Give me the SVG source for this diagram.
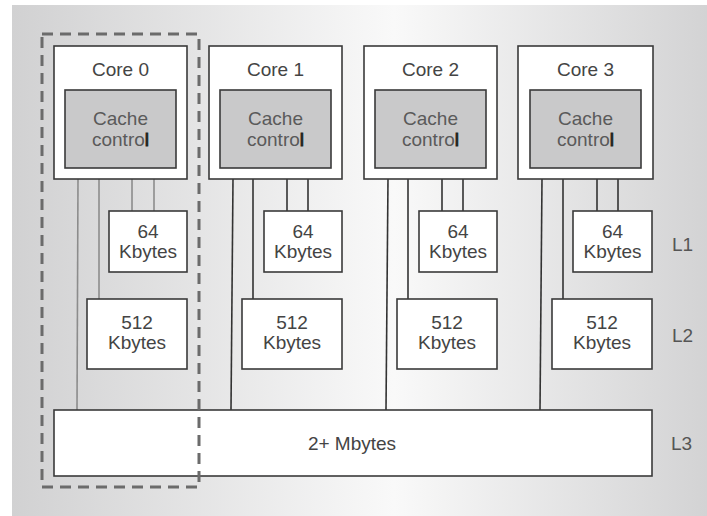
<svg xmlns="http://www.w3.org/2000/svg" width="707" height="516" viewBox="0 0 707 516">
  <defs>
    <linearGradient id="bg" x1="0" y1="0" x2="1" y2="0">
      <stop offset="0" stop-color="#d1d1d2"/>
      <stop offset="0.55" stop-color="#f9f9f9"/>
      <stop offset="1" stop-color="#d3d3d4"/>
    </linearGradient>
    <style>
      .box { fill: #ffffff; stroke: #3a3a3a; stroke-width: 1.6; }
      .ctl { fill: #c9c9ca; stroke: #3a3a3a; stroke-width: 1.6; }
      .bus { stroke: #333333; stroke-width: 1.6; fill: none; }
      .bus0 { stroke: #8c8c8c; stroke-width: 1.6; fill: none; }
      text { font-family: "Liberation Sans", Arial, sans-serif; font-size: 19px; fill: #444444; text-anchor: middle; }
      .cc { fill: #5a5a5a; }
      .bar { fill: #222222; stroke: #222222; stroke-width: 0.9; }
      .lvl { text-anchor: start; fill: #555555; }
      .dash { fill: none; stroke: #6b6b6b; stroke-width: 3; stroke-dasharray: 11 7; }
    </style>
  </defs>

  <rect x="0" y="0" width="707" height="516" fill="#ffffff"/>
  <rect x="12" y="5" width="695" height="511" fill="url(#bg)"/>

  <!-- connectors -->
  <g id="connectors">
    <g class="bus0">
      <line x1="78" y1="179" x2="77" y2="410"/>
      <line x1="99" y1="179" x2="99" y2="299"/>
      <line x1="132" y1="179" x2="132" y2="211"/>
      <line x1="154" y1="179" x2="154" y2="211"/>
    </g>
    <g class="bus">
      <line x1="233" y1="179" x2="231" y2="410"/>
      <line x1="253" y1="179" x2="253" y2="299"/>
      <line x1="287" y1="179" x2="287" y2="211"/>
      <line x1="308" y1="179" x2="308" y2="211"/>

      <line x1="388" y1="179" x2="386" y2="410"/>
      <line x1="408" y1="179" x2="408" y2="299"/>
      <line x1="442" y1="179" x2="442" y2="211"/>
      <line x1="463" y1="179" x2="463" y2="211"/>

      <line x1="542" y1="179" x2="540" y2="410"/>
      <line x1="563" y1="179" x2="563" y2="299"/>
      <line x1="597" y1="179" x2="597" y2="211"/>
      <line x1="618" y1="179" x2="618" y2="211"/>
    </g>
  </g>

  <!-- cores -->
  <g id="core0">
    <rect class="box" x="54" y="46" width="133" height="133"/>
    <text x="120.5" y="76">Core 0</text>
    <rect class="ctl" x="65" y="90" width="111" height="78"/>
    <text class="cc" x="120.5" y="125">Cache</text>
    <text class="cc" x="120.5" y="146">contro<tspan class="bar">l</tspan></text>
  </g>
  <g id="core1">
    <rect class="box" x="209" y="46" width="133" height="133"/>
    <text x="275.5" y="76">Core 1</text>
    <rect class="ctl" x="220" y="90" width="111" height="78"/>
    <text class="cc" x="275.5" y="125">Cache</text>
    <text class="cc" x="275.5" y="146">contro<tspan class="bar">l</tspan></text>
  </g>
  <g id="core2">
    <rect class="box" x="364" y="46" width="133" height="133"/>
    <text x="430.5" y="76">Core 2</text>
    <rect class="ctl" x="375" y="90" width="111" height="78"/>
    <text class="cc" x="430.5" y="125">Cache</text>
    <text class="cc" x="430.5" y="146">contro<tspan class="bar">l</tspan></text>
  </g>
  <g id="core3">
    <rect class="box" x="518" y="46" width="135" height="133"/>
    <text x="585.5" y="76">Core 3</text>
    <rect class="ctl" x="530" y="90" width="111" height="78"/>
    <text class="cc" x="585.5" y="125">Cache</text>
    <text class="cc" x="585.5" y="146">contro<tspan class="bar">l</tspan></text>
  </g>

  <!-- L1 caches -->
  <g id="l1-0">
    <rect class="box" x="109" y="211" width="78" height="61"/>
    <text x="148" y="238">64</text>
    <text x="148" y="258">Kbytes</text>
  </g>
  <g id="l1-1">
    <rect class="box" x="264" y="211" width="78" height="61"/>
    <text x="303" y="238">64</text>
    <text x="303" y="258">Kbytes</text>
  </g>
  <g id="l1-2">
    <rect class="box" x="419" y="211" width="78" height="61"/>
    <text x="458" y="238">64</text>
    <text x="458" y="258">Kbytes</text>
  </g>
  <g id="l1-3">
    <rect class="box" x="573" y="211" width="79" height="61"/>
    <text x="612.5" y="238">64</text>
    <text x="612.5" y="258">Kbytes</text>
  </g>

  <!-- L2 caches -->
  <g id="l2-0">
    <rect class="box" x="87" y="299" width="100" height="70"/>
    <text x="137" y="329">512</text>
    <text x="137" y="349">Kbytes</text>
  </g>
  <g id="l2-1">
    <rect class="box" x="242" y="299" width="100" height="70"/>
    <text x="292" y="329">512</text>
    <text x="292" y="349">Kbytes</text>
  </g>
  <g id="l2-2">
    <rect class="box" x="397" y="299" width="100" height="70"/>
    <text x="447" y="329">512</text>
    <text x="447" y="349">Kbytes</text>
  </g>
  <g id="l2-3">
    <rect class="box" x="552" y="299" width="100" height="70"/>
    <text x="602" y="329">512</text>
    <text x="602" y="349">Kbytes</text>
  </g>

  <!-- shared L3 -->
  <g id="l3">
    <rect class="box" x="54" y="410" width="598" height="66"/>
    <text x="352" y="450">2+ Mbytes</text>
  </g>

  <!-- level labels -->
  <g id="levels">
    <text class="lvl" x="672" y="251">L1</text>
    <text class="lvl" x="672" y="342">L2</text>
    <text class="lvl" x="671" y="450">L3</text>
  </g>

  <!-- single-core outline -->
  <rect id="core0-outline" class="dash" x="42" y="34" width="157" height="453"/>
</svg>
